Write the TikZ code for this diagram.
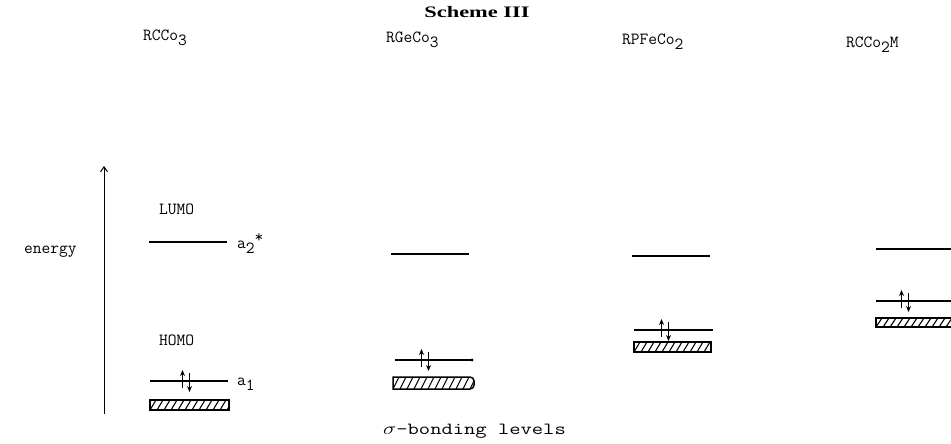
\documentclass[tikz,border=0pt]{standalone}
\usepackage{fontspec}
\setmainfont{Liberation Serif}
\usetikzlibrary{arrows.meta}
\begin{document}
\begin{tikzpicture}[x=1pt,y=-1pt,
  lvl/.style={line width=1.3pt},
  tt/.style={font=\ttfamily\fontsize{17}{17}\selectfont, inner sep=0pt},
  spin/.style={line width=1.4pt,-{Stealth[length=6pt,width=5pt]}},
]
\useasboundingbox (0,0) rectangle (951,444);
\newcommand{\sbx}[1]{\raisebox{-5pt}{#1}}
% title
\node[font=\bfseries\fontsize{16}{16}\selectfont, inner sep=0pt] (title) at (477,12) {\scalebox{1.4}[1]{Scheme III}};
% column labels
\node[tt, anchor=west] (c1) at (143,38) {RCCo\sbx{3}};
\node[tt, anchor=west] (c2) at (386,40) {RGeCo\sbx{3}};
\node[tt, anchor=west] (c3) at (622,42) {RPFeCo\sbx{2}};
\node[tt, anchor=west] (c4) at (846,45) {RCCo\sbx{2}M};
% energy axis
\coordinate (ebot) at (104,414);
\coordinate (etop) at (104,166);
\draw[line width=1pt,-{Straight Barb[length=5pt,width=7pt]}] (ebot) -- (etop);
\node[tt, anchor=west] (energy) at (24,252) {energy};
% labels
\node[tt, anchor=west] (lumo) at (159,209) {LUMO};
\node[tt, anchor=west] (homo) at (159,340) {HOMO};
\node[tt, anchor=west] (sigma) at (383,431) {\scalebox{1.29}[1]{$\sigma$-bonding levels}};

\newcommand{\hatchlines}[4]{% x1,y1,x2,y2
  \begin{scope}
    \clip (#1,#2) rectangle (#3,#4);
    \foreach \h in {-14,-7,...,100} {
      \draw[line width=1.1pt] ({#1+\h},#4) -- ({#1+\h+6},#2);
    }
  \end{scope}
}
\newcommand{\hatchbox}[4]{%
  \hatchlines{#1}{#2}{#3}{#4}
  \draw[line width=1.5pt] (#1,#2) rectangle (#3,#4);
}
\newcommand{\spins}[2]{% x, y
  \draw[spin] (#1-3.5,#2+7) -- (#1-3.5,#2-11);
  \draw[spin] (#1+3.5,#2-8) -- (#1+3.5,#2+11);
}

% column 1
\coordinate (l1a) at (149,242); \coordinate (l1b) at (227,242);
\draw[lvl] (l1a) -- (l1b);
\node[tt, anchor=west] (a2) at (237,244) {a\sbx{2}\raisebox{6pt}{*}};
\coordinate (h1a) at (150,381); \coordinate (h1b) at (228,381);
\draw[lvl] (h1a) -- (h1b);
\spins{186}{381}
\node[tt, anchor=west] (a1) at (237,384) {a\sbx{1}};
\hatchbox{150}{400}{229}{410}

% column 2
\coordinate (l2a) at (391,254); \coordinate (l2b) at (469,254);
\draw[lvl] (l2a) -- (l2b);
\coordinate (h2a) at (395,360); \coordinate (h2b) at (472,360);
\draw[lvl] (h2a) -- (h2b);
\fill (h2b) circle (1.7pt);
\spins{425}{360}
\hatchlines{393}{377}{474}{389}
\draw[line width=1.5pt] (393,389) -- (393,377) [rounded corners=4pt] -- (474,377) -- (474,389) [sharp corners] -- cycle;

% column 3
\coordinate (l3a) at (632,256); \coordinate (l3b) at (710,256);
\draw[lvl] (l3a) -- (l3b);
\coordinate (h3a) at (634,330); \coordinate (h3b) at (713,330);
\draw[lvl] (h3a) -- (h3b);
\spins{665}{330}
\hatchbox{634}{342}{711}{352}

% column 4
\coordinate (l4a) at (876,249); \coordinate (l4b) at (951,249);
\draw[lvl] (l4a) -- (l4b);
\coordinate (h4a) at (876,301); \coordinate (h4b) at (951,301);
\draw[lvl] (h4a) -- (h4b);
\spins{905}{301}
\hatchbox{876}{318}{955}{327}
\end{tikzpicture}
\end{document}
